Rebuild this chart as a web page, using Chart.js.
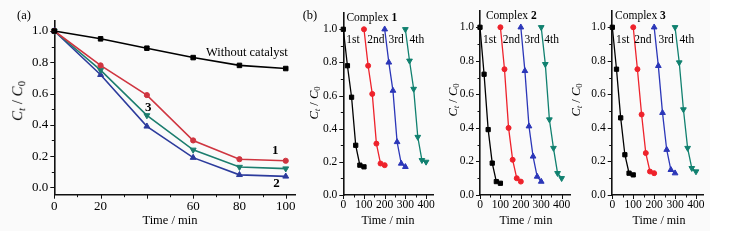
<!DOCTYPE html>
<html>
<head>
<meta charset="utf-8">
<script src="https://cdn.jsdelivr.net/npm/chart.js@4.4.1/dist/chart.umd.min.js"></script>
<style>
  body { margin: 0; background: #fff; }
  #wrap { position: relative; width: 743px; height: 241px; overflow: hidden; font-family: 'Liberation Serif', serif; color: #000; }
  #bg { position: absolute; left: 0; top: 0; width: 710px; height: 231px; background: #fafafa; }
  canvas { position: absolute; top: 0; }
  .lbl { position: absolute; transform: translate(-50%, -50%); white-space: nowrap; line-height: 1; }
  .ytitle { position: absolute; transform: translate(-50%, -50%) rotate(-90deg); white-space: nowrap; line-height: 1; }
  .ytitle sub { font-size: 0.7em; vertical-align: -0.3em; }
</style>
</head>
<body>
<div id="wrap">
  <div id="bg"></div>
  <canvas id="chartA" width="300" height="241" style="left:0px"></canvas>
  <canvas id="chartB1" width="140" height="241" style="left:300px"></canvas>
  <canvas id="chartB2" width="135" height="241" style="left:440px"></canvas>
  <canvas id="chartB3" width="135" height="241" style="left:575px"></canvas>

  <div class="lbl" style="left:24px;top:15px;font-size:12.5px">(a)</div>
  <div class="lbl" style="left:310px;top:15px;font-size:12.5px">(b)</div>

  <div class="ytitle" style="left:19px;top:101px;font-size:15px"><i>C</i><sub><i>t</i></sub> / <i>C</i><sub>0</sub></div>
  <div class="ytitle" style="left:315px;top:103px;font-size:12.5px"><i>C</i><sub><i>t</i></sub> / <i>C</i><sub>0</sub></div>
  <div class="ytitle" style="left:454px;top:100px;font-size:12.5px"><i>C</i><sub><i>t</i></sub> / <i>C</i><sub>0</sub></div>
  <div class="ytitle" style="left:577px;top:100px;font-size:12.5px"><i>C</i><sub><i>t</i></sub> / <i>C</i><sub>0</sub></div>

  <div class="lbl" style="left:170px;top:220px;font-size:12.5px">Time / min</div>
  <div class="lbl" style="left:388px;top:220px;font-size:12px">Time / min</div>
  <div class="lbl" style="left:526px;top:220px;font-size:12px">Time / min</div>
  <div class="lbl" style="left:659px;top:220px;font-size:12px">Time / min</div>
</div>

<script>
// ---- panel (a) data ----
const timeA = [0, 20, 40, 60, 80, 100];
const noCatalyst = [1.0, 0.95, 0.89, 0.83, 0.78, 0.76];
const complex1 = [1.0, 0.78, 0.59, 0.30, 0.18, 0.17];
const complex2 = [1.0, 0.72, 0.39, 0.19, 0.08, 0.07];
const complex3 = [1.0, 0.75, 0.46, 0.24, 0.13, 0.12];
const xTicksA = [0, 20, 40, 60, 80, 100];
const xTickLabelsA = ['0', '20', '', '60', '80', '100'];
const yTicks = [0, 0.2, 0.4, 0.6, 0.8, 1.0];

// ---- panel (b) data: 4 reuse cycles per complex ----
const time1st = [0, 20, 40, 60, 80, 100];
const time2nd = [100, 120, 140, 160, 180, 200];
const time3rd = [200, 220, 240, 260, 280, 300];
const time4th = [300, 320, 340, 360, 380, 400];
const xTicksB = [0, 100, 200, 300, 400];

const c1Runs = [
  [1.0, 0.78, 0.59, 0.30, 0.18, 0.17],
  [1.0, 0.78, 0.61, 0.31, 0.19, 0.18],
  [1.0, 0.80, 0.63, 0.32, 0.19, 0.17],
  [1.0, 0.81, 0.64, 0.35, 0.21, 0.20],
];
const c2Runs = [
  [1.0, 0.72, 0.39, 0.19, 0.08, 0.07],
  [1.0, 0.75, 0.40, 0.21, 0.10, 0.08],
  [1.0, 0.74, 0.41, 0.23, 0.11, 0.08],
  [1.0, 0.78, 0.45, 0.28, 0.13, 0.10],
];
const c3Runs = [
  [1.0, 0.75, 0.46, 0.24, 0.13, 0.12],
  [1.0, 0.75, 0.48, 0.25, 0.14, 0.13],
  [1.0, 0.77, 0.49, 0.27, 0.15, 0.13],
  [1.0, 0.79, 0.51, 0.28, 0.16, 0.14],
];
const runNames = ['1st', '2nd', '3rd', '4th'];

Chart.defaults.font.family = "'Liberation Serif', serif";
Chart.defaults.color = '#000';
Chart.defaults.animation = false;

// outward major/minor tick marks on both axes
const tickMarks = {
  id: 'tickMarks',
  afterDraw(chart, args, o) {
    const { ctx, chartArea } = chart;
    const sx = chart.scales.x, sy = chart.scales.y;
    ctx.save();
    ctx.strokeStyle = '#111';
    ctx.lineWidth = 1;
    ctx.beginPath();
    const b = chartArea.bottom, l = chartArea.left;
    const xt = (v, len) => { const p = Math.round(sx.getPixelForValue(v)) + 0.5; ctx.moveTo(p, b); ctx.lineTo(p, b + len); };
    const yt = (v, len) => { const p = Math.round(sy.getPixelForValue(v)) + 0.5; ctx.moveTo(l, p); ctx.lineTo(l - len, p); };
    o.xMajor.forEach(v => xt(v, 4));
    o.xMinor.forEach(v => xt(v, 2.5));
    o.yMajor.forEach(v => yt(v, 4));
    o.yMinor.forEach(v => yt(v, 2.5));
    ctx.stroke();
    ctx.restore();
  }
};

// text notes placed at data coordinates; parts allow a bold numeral
const textNotes = {
  id: 'textNotes',
  afterDatasetsDraw(chart, args, o) {
    const { ctx } = chart;
    const sx = chart.scales.x, sy = chart.scales.y;
    ctx.save();
    ctx.fillStyle = '#000';
    ctx.textBaseline = 'middle';
    (o.items || []).forEach(it => {
      const parts = it.parts || [{ t: it.text, bold: it.bold }];
      const fontOf = p => (p.bold ? 'bold ' : '') + it.size + "px 'Liberation Serif', serif";
      let w = 0;
      parts.forEach(p => { ctx.font = fontOf(p); w += ctx.measureText(p.t).width; });
      let x = sx.getPixelForValue(it.x);
      const y = sy.getPixelForValue(it.y);
      if (it.align !== 'left') x -= w / 2;
      ctx.textAlign = 'left';
      parts.forEach(p => { ctx.font = fontOf(p); ctx.fillText(p.t, x, y); x += ctx.measureText(p.t).width; });
    });
    ctx.restore();
  }
};

function axisFit(kind, size) {
  return scale => {
    if (kind === 'x') { scale.height = size; scale.paddingLeft = 0; scale.paddingRight = 0; }
    else { scale.width = size; scale.paddingTop = 0; scale.paddingBottom = 0; }
  };
}

function series(label, xs, ys, color, style, radius, rot, width) {
  return {
    label,
    data: xs.map((x, i) => ({ x, y: ys[i] })),
    borderColor: color,
    backgroundColor: color,
    pointBackgroundColor: color,
    pointBorderColor: color,
    pointBorderWidth: 1,
    pointStyle: style,
    pointRotation: rot || 0,
    pointRadius: radius,
    borderWidth: width,
    tension: 0,
    clip: false,
  };
}

function makeChart(id, cfg) {
  return new Chart(document.getElementById(id), {
    type: 'line',
    data: { datasets: cfg.datasets },
    options: {
      responsive: false,
      devicePixelRatio: 1,
      layout: { padding: { top: cfg.top, right: cfg.right, left: 0, bottom: 0 } },
      scales: {
        x: {
          type: 'linear', min: cfg.xMin, max: cfg.xMax,
          grid: { display: false, drawTicks: false },
          border: { display: true, color: '#111', width: 1.6 },
          afterBuildTicks: s => { s.ticks = cfg.xTicks.map(v => ({ value: v })); },
          afterFit: axisFit('x', cfg.xAxisH),
          ticks: {
            autoSkip: false, maxRotation: 0, padding: cfg.xPad,
            font: { size: cfg.tickSize },
            callback: (v, i) => cfg.xLabels ? cfg.xLabels[i] : String(v),
          },
        },
        y: {
          type: 'linear', min: cfg.yMin, max: cfg.yMax,
          grid: { display: false, drawTicks: false },
          border: { display: true, color: '#111', width: 1.6 },
          afterBuildTicks: s => { s.ticks = yTicks.map(v => ({ value: v })); },
          afterFit: axisFit('y', cfg.yAxisW),
          ticks: { padding: 6, font: { size: cfg.tickSize }, callback: v => v.toFixed(1) },
        },
      },
      plugins: {
        legend: { display: false },
        tooltip: { enabled: false },
        tickMarks: { xMajor: cfg.xTicks, xMinor: cfg.xMinor, yMajor: yTicks, yMinor: [0.1, 0.3, 0.5, 0.7, 0.9] },
        textNotes: { items: cfg.notes },
      },
    },
    plugins: [tickMarks, textNotes],
  });
}

// ---- panel (a) ----
makeChart('chartA', {
  datasets: [
    series('Without catalyst', timeA, noCatalyst, '#000000', 'rect', 3.2, 0, 1.6),
    series('1', timeA, complex1, '#cf3540', 'circle', 2.6, 0, 1.6),
    series('3', timeA, complex3, '#1b7d6e', 'triangle', 3.4, 180, 1.6),
    series('2', timeA, complex2, '#2c3b9c', 'triangle', 3.4, 0, 1.6),
  ],
  top: 21, right: 3.3, xMin: 0, xMax: 104, yMin: -0.047, yMax: 1.064,
  xAxisH: 46.3, yAxisW: 54.3, xPad: 4, tickSize: 13,
  xTicks: xTicksA, xLabels: xTickLabelsA, xMinor: [10, 30, 50, 70, 90],
  notes: [
    { text: 'Without catalyst', x: 83.2, y: 0.861, size: 12.5 },
    { text: '1', bold: true, x: 95.5, y: 0.232, size: 13 },
    { text: '3', bold: true, x: 40.6, y: 0.513, size: 13 },
    { text: '2', bold: true, x: 96, y: 0.021, size: 13 },
  ],
});

// ---- panel (b) ----
const runColors = ['#000000', '#ee222b', '#2b36b8', '#10806f'];
const runStyles = [['rect', 3, 0], ['circle', 2.5, 0], ['triangle', 3.3, 0], ['triangle', 3.3, 180]];
const runTimes = [time1st, time2nd, time3rd, time4th];

function cycleSets(runs) {
  return runs.map((ys, k) => series(runNames[k], runTimes[k], ys, runColors[k],
    runStyles[k][0], runStyles[k][1], runStyles[k][2], 1.3));
}

function cycleNotes(num, cx, runX, yRun) {
  const notes = [{ parts: [{ t: 'Complex ' }, { t: num, bold: true }], align: 'left', x: cx, y: 1.07, size: 11.5 }];
  runNames.forEach((n, k) => notes.push({ text: n, x: runX[k], y: yRun, size: 11.5 }));
  return notes;
}

makeChart('chartB1', {
  datasets: cycleSets(c1Runs),
  top: 12.7, right: 6.7, xMin: 0, xMax: 435, yMin: 0, yMax: 1.1,
  xAxisH: 46, yAxisW: 43.3, xPad: 3.5, tickSize: 11.5,
  xTicks: xTicksB, xMinor: [50, 150, 250, 350],
  notes: cycleNotes('1', 15, [47, 158, 255, 356], 0.935),
});
makeChart('chartB2', {
  datasets: cycleSets(c2Runs),
  top: 10.5, right: 3.3, xMin: 0, xMax: 441, yMin: 0, yMax: 1.1,
  xAxisH: 46, yAxisW: 40, xPad: 3.5, tickSize: 11.5,
  xTicks: xTicksB, xMinor: [50, 150, 250, 350],
  notes: cycleNotes('2', 29, [48, 154, 255, 351], 0.924),
});
makeChart('chartB3', {
  datasets: cycleSets(c3Runs),
  top: 10.5, right: 6.7, xMin: -3, xMax: 435, yMin: 0, yMax: 1.1,
  xAxisH: 46, yAxisW: 36.7, xPad: 3.5, tickSize: 11.5,
  xTicks: xTicksB, xMinor: [50, 150, 250, 350],
  notes: cycleNotes('3', 13, [50, 146, 257, 356], 0.924),
});
</script>
</body>
</html>
